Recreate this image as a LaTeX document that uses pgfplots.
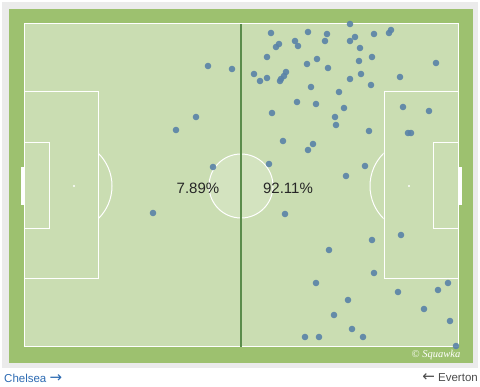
\documentclass[border=0pt]{standalone}
\usepackage{pgfplots}
\pgfplotsset{compat=1.18}
\usepackage{fontspec}
\setmainfont{Liberation Sans}
\newfontfamily\serifit{Liberation Serif}
\newfontfamily\dejavu{DejaVu Sans}
\definecolor{outergreen}{HTML}{9DC16F}
\definecolor{pitch}{HTML}{CADDB2}
\definecolor{dotc}{HTML}{5A83A8}
\definecolor{midline}{HTML}{5B8C4C}
\definecolor{cardline}{HTML}{EBEBEB}
\definecolor{linkblue}{HTML}{2D6BB3}
\begin{document}
\begin{tikzpicture}
\begin{axis}[scale only axis, width=480pt, height=387pt,
  xmin=0, xmax=480, ymin=0, ymax=387, y dir=reverse,
  hide axis, clip=false]
% card and pitch
\fill[white] (0,0) rectangle (480,387);
\fill[cardline] (2,2) rectangle (478,368);
\fill[outergreen] (9,9) rectangle (473,363);
\fill[pitch] (24,24) rectangle (458,347);
% goals
\fill[white] (20.5,167) rectangle (24,205);
\fill[white] (458,167) rectangle (461.5,205);
% lines
\draw[white, line width=1pt] (24,24) rectangle (458,347);
\draw[white, line width=1pt] (24,92) rectangle (98,279);
\draw[white, line width=1pt] (24,143) rectangle (49,229);
\draw[white, line width=1pt] (384,92) rectangle (458,279);
\draw[white, line width=1pt] (433,143) rectangle (458,229);
\begin{scope}
\clip (98.5,100) rectangle (200,270);
\draw[white, line width=1pt] (66,186) circle[radius=46pt];
\end{scope}
\begin{scope}
\clip (300,100) rectangle (383.5,270);
\draw[white, line width=1pt] (416,186) circle[radius=46pt];
\end{scope}
\draw[white, line width=1pt, fill=white, fill opacity=0.18] (241,186) circle[radius=32pt];
\fill[white] (74,186) circle[radius=1.2pt];
\fill[white] (409,186) circle[radius=1.2pt];
\draw[midline, line width=1.4pt] (241,24) -- (241,347);
% percentages
\node[text=black!85, font=\fontsize{15}{18}\selectfont] at (198,188) {7.89\%};
\node[text=black!85, font=\fontsize{15}{18}\selectfont] at (288,188) {92.11\%};
% labels
\node[anchor=west, text=linkblue, font=\fontsize{11.5}{14}\selectfont, inner sep=0pt] at (4,378) {Chelsea\ {\dejavu\fontsize{15}{15}\selectfont →}};
\node[anchor=east, text=black!70, font=\fontsize{11.5}{14}\selectfont, inner sep=0pt] at (478,378) {{\dejavu\fontsize{15}{15}\selectfont ←}\ Everton};
\node[text=white, font=\serifit\itshape\fontsize{10.5}{12}\selectfont] at (436,355) {© Squawka};
% Chelsea events
\addplot[only marks, mark=*, mark size=3.3pt, color=dotc, fill opacity=0.9, draw opacity=0] coordinates {
(208,66) (232,69) (196,117) (176,130) (213,167) (153,213)
};
% Everton events
\addplot[only marks, mark=*, mark size=3.3pt, color=dotc, fill opacity=0.9, draw opacity=0] coordinates {
(350,24) (271,33) (308,32) (327,34) (374,34) (389,33) (391,30)
(279,44) (276,47) (295,41) (298,46) (325,41) (350,41) (355,37) (360,48)
(267,57) (307,64) (317,59) (328,68) (359,61) (372,57) (436,63)
(254,74) (260,81) (267,78) (286,72) (284,76) (281,79) (280,81)
(350,79) (361,74) (371,85) (400,77) (311,87) (339,92)
(297,102) (316,104) (344,108) (272,113) (335,117) (336,125)
(403,107) (429,111) (369,131) (408,133) (411,133)
(283,141) (313,144) (308,150) (269,164) (365,166) (346,176)
(285,214) (372,240) (401,235) (329,250) (374,273) (316,283)
(398,292) (438,290) (448,283) (348,300) (424,309) (334,315)
(450,321) (352,329) (305,337) (319,337) (363,337) (456,346)
};
\end{axis}
\end{tikzpicture}
\end{document}
